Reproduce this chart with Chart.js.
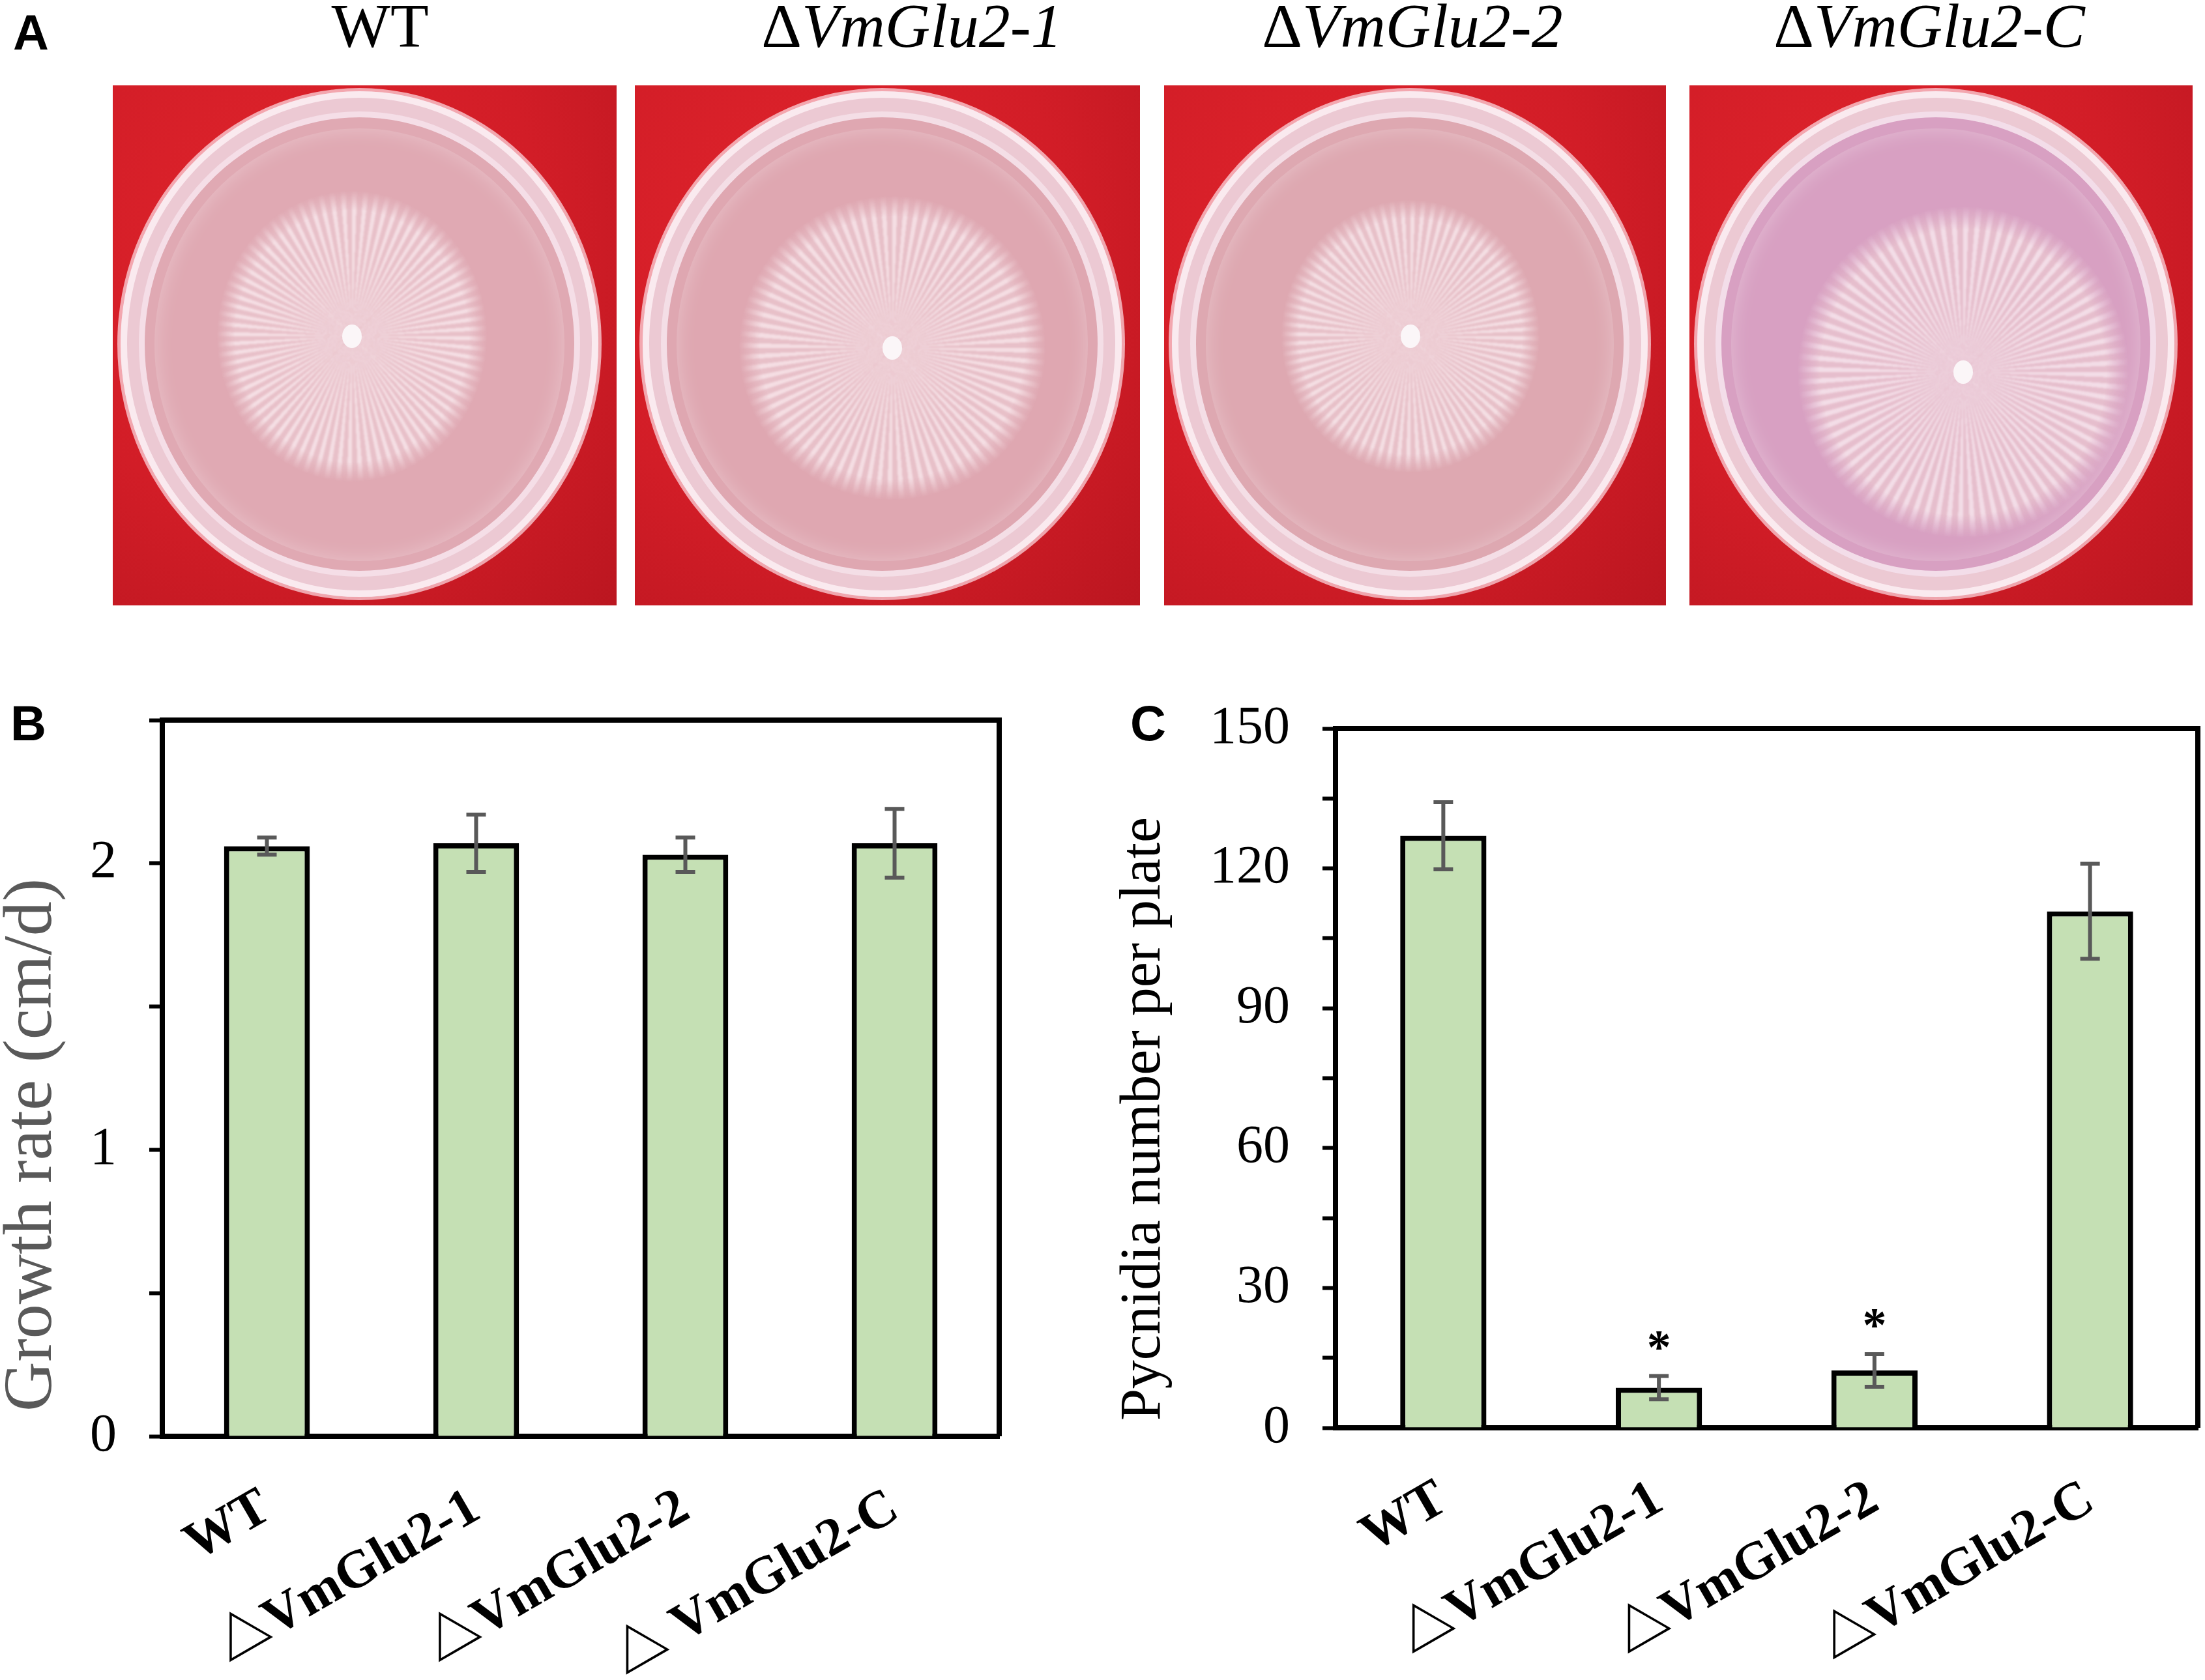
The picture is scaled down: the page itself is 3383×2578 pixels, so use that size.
<!DOCTYPE html>
<html>
<head>
<meta charset="utf-8">
<script src="https://cdn.jsdelivr.net/npm/chart.js@4.4.1/dist/chart.umd.min.js"></script>
<style>
  html, body { margin:0; padding:0; background:#fff; }
  #page { position:relative; width:3383px; height:2578px; overflow:hidden; background:#fff; }
  .letter { position:absolute; font:bold 76px "Liberation Sans", Arial, sans-serif; line-height:76px; color:#000; }
  .plateLabel { position:absolute; top:-8px; width:700px; text-align:center; font:96px "Liberation Serif", serif; line-height:96px; color:#000; }
  .plateLabel i { font-style:italic; }
  .photo { position:absolute; top:131px; height:798px; overflow:hidden;
           background:radial-gradient(ellipse at 35% 30%, #e0242c 0%, #d21d27 55%, #bb1620 100%); }
  .dish, .ring, .agar, .colony, .plug { position:absolute; border-radius:50%; }
  canvas { position:absolute; }
</style>
</head>
<body>
<div id="page">
  <div class="letter" style="left:20px;top:12px">A</div>
  <div class="letter" style="left:16px;top:1072px">B</div>
  <div class="letter" style="left:1734px;top:1072px">C</div>
  <div id="plates"></div>
  <canvas id="growthChart" width="1560" height="1578" style="left:0;top:1000px;width:1560px;height:1578px"></canvas>
  <canvas id="pycnidiaChart" width="1683" height="1578" style="left:1700px;top:1000px;width:1683px;height:1578px"></canvas>
</div>
<script>
// ── data ─────────────────────────────────────
const plateNames   = ['WT', 'VmGlu2-1', 'VmGlu2-2', 'VmGlu2-C'];
const growthLabels = ['WT', '△VmGlu2-1', '△VmGlu2-2', '△ VmGlu2-C'];
const pycLabels    = ['WT', '△VmGlu2-1', '△VmGlu2-2', '△VmGlu2-C'];
const growthRate   = [2.06, 2.07, 2.03, 2.07];
const growthErr    = [0.03, 0.10, 0.06, 0.12];
const pycnidia     = [127.0, 8.6, 12.3, 110.8];
const pycnidiaErr  = [7.2, 2.5, 3.5, 10.2];
const pycMarks     = ['', '*', '*', ''];
const growthTicks  = [0, 1, 2];
const pycTicks     = [0, 30, 60, 90, 120, 150];

// ── panel A: plate photos (drawn with css) ───
const plateLook = [
  { left:173,  width:773, label:583,  agar:'#e0a9b3', cx:367, cy:385, rx:208, ry:224 },
  { left:974,  width:775, label:1399, agar:'#dfa7b1', cx:395, cy:403, rx:236, ry:234 },
  { left:1786, width:770, label:2167, agar:'#dea8b1', cx:378, cy:385, rx:199, ry:210 },
  { left:2592, width:772, label:2960, agar:'#d8a0c2', cx:420, cy:440, rx:255, ry:255 }
];
const platesEl = document.getElementById('plates');
plateLook.forEach((p, i) => {
  const lab = document.createElement('div');
  lab.className = 'plateLabel';
  lab.style.left = (p.label - 350) + 'px';
  lab.innerHTML = i === 0 ? plateNames[i] : 'Δ<i>' + plateNames[i] + '</i>';
  platesEl.appendChild(lab);

  const ph = document.createElement('div');
  ph.className = 'photo';
  ph.style.left = p.left + 'px';
  ph.style.width = p.width + 'px';
  const dw = p.width - 40, dh = 776;
  ph.innerHTML = `
    <div class="dish" style="left:12px;top:9px;width:${dw}px;height:${dh}px;background:#ecc9d3;
         box-shadow:0 0 0 5px rgba(255,225,232,.7), inset 0 0 0 10px rgba(255,244,248,.75)"></div>
    <div class="ring" style="left:40px;top:40px;width:${dw-56}px;height:${dh-62}px;
         border:9px solid rgba(248,232,240,.85);box-sizing:border-box;background:${p.agar}"></div>
    <div class="agar" style="left:64px;top:66px;width:${dw-104}px;height:${dh-112}px;background:${p.agar};
         box-shadow:inset 0 0 30px rgba(255,255,255,.3)"></div>
    <div class="colony" style="left:${p.cx-p.rx}px;top:${p.cy-p.ry}px;width:${2*p.rx}px;height:${2*p.ry}px;
         background:repeating-conic-gradient(from 0deg, rgba(250,236,240,.8) 0deg 2deg, rgba(234,200,208,.75) 2deg 4.5deg);
         filter:blur(1.5px);
         -webkit-mask-image:radial-gradient(closest-side, #000 0%, #000 86%, transparent 100%);
         mask-image:radial-gradient(closest-side, #000 0%, #000 86%, transparent 100%)"></div>
    <div class="plug" style="left:${p.cx-15}px;top:${p.cy-18}px;width:30px;height:36px;background:#fbf6f8"></div>`;
  platesEl.appendChild(ph);
});

// ── panels B & C: bar charts ─────────────────
const serif = '"Liberation Serif", "Times New Roman", "Noto Sans CJK SC", serif';

const errorBars = {
  id: 'errorBars',
  beforeDatasetsDraw(chart) {
    // top and right frame lines
    const { ctx, chartArea: a } = chart;
    ctx.save();
    ctx.strokeStyle = '#000'; ctx.lineWidth = 8;
    ctx.beginPath();
    ctx.moveTo(a.left, a.top); ctx.lineTo(a.right, a.top); ctx.lineTo(a.right, a.bottom);
    ctx.stroke();
    ctx.restore();
  },
  afterDatasetsDraw(chart, args, opts) {
    const { ctx, scales: { y } } = chart;
    const vals = chart.data.datasets[0].data;
    ctx.save();
    ctx.strokeStyle = '#595959'; ctx.lineWidth = 6;
    chart.getDatasetMeta(0).data.forEach((bar, i) => {
      const top = y.getPixelForValue(vals[i] + opts.errors[i]);
      const bot = y.getPixelForValue(vals[i] - opts.errors[i]);
      ctx.beginPath();
      ctx.moveTo(bar.x, top); ctx.lineTo(bar.x, bot);
      ctx.moveTo(bar.x - 15, top); ctx.lineTo(bar.x + 15, top);
      ctx.moveTo(bar.x - 15, bot); ctx.lineTo(bar.x + 15, bot);
      ctx.stroke();
      if (opts.marks && opts.marks[i]) {
        ctx.fillStyle = '#000';
        ctx.font = 'bold 74px ' + serif;
        ctx.textAlign = 'center'; ctx.textBaseline = 'alphabetic';
        ctx.fillText(opts.marks[i], bar.x, top - 20);
      }
    });
    // y axis title, placed like the original figure
    const t = opts.title;
    ctx.translate(t.x, t.y);
    ctx.rotate(-Math.PI / 2);
    ctx.fillStyle = t.color;
    ctx.font = t.size + 'px ' + serif;
    ctx.textAlign = 'center'; ctx.textBaseline = 'middle';
    ctx.fillText(t.text, 0, 0);
    ctx.restore();
  }
};

function barChart(id, labels, values, errors, marks, cfg) {
  const ctx = document.getElementById(id).getContext('2d');
  return new Chart(ctx, {
    type: 'bar',
    data: {
      labels: labels,
      datasets: [{
        data: values,
        backgroundColor: '#c5e0b4', borderColor: '#000', borderWidth: 8,
        barPercentage: cfg.barPct, categoryPercentage: 1
      }]
    },
    options: {
      responsive: false, animation: false, devicePixelRatio: 1,
      layout: { padding: { left: 0, right: cfg.padRight, top: cfg.padTop, bottom: 0 } },
      plugins: {
        legend: { display: false }, tooltip: { enabled: false },
        errorBars: { errors: errors, marks: marks, title: cfg.title }
      },
      scales: {
        x: {
          grid: { display: false, drawTicks: false },
          border: { display: true, color: '#000', width: 8 },
          ticks: { color: '#000', font: { family: serif, size: 82, weight: 'bold' },
                   minRotation: 30, maxRotation: 30, padding: 62 },
          afterFit: s => { s.height = cfg.xHeight; }
        },
        y: {
          min: 0, max: cfg.max,
          grid: { drawOnChartArea: false, drawTicks: true, tickLength: 20, tickWidth: 6, tickColor: '#000' },
          border: { display: true, color: '#000', width: 8 },
          ticks: { stepSize: cfg.step, color: '#000', padding: 50,
                   font: { family: serif, size: 82 },
                   callback: v => cfg.shown.includes(v) ? v : '' },
          title: { display: false },
          afterFit: s => { s.width = cfg.yWidth; }
        }
      }
    },
    plugins: [errorBars]
  });
}

barChart('growthChart', growthLabels, growthRate, growthErr, null, {
  max: 2.5, step: 0.5, shown: growthTicks, barPct: 0.41,
  title: { text: 'Growth rate (cm/d)', color: '#595959', size: 106, x: 50, y: 757 },
  yWidth: 249, xHeight: 374, padRight: 27, padTop: 105
});

barChart('pycnidiaChart', pycLabels, pycnidia, pycnidiaErr, pycMarks, {
  max: 150, step: 15, shown: pycTicks, barPct: 0.40,
  title: { text: 'Pycnidia number per plate', color: '#000', size: 88, x: 56, y: 717 },
  yWidth: 349, xHeight: 387, padRight: 11, padTop: 118
});
</script>
</body>
</html>
